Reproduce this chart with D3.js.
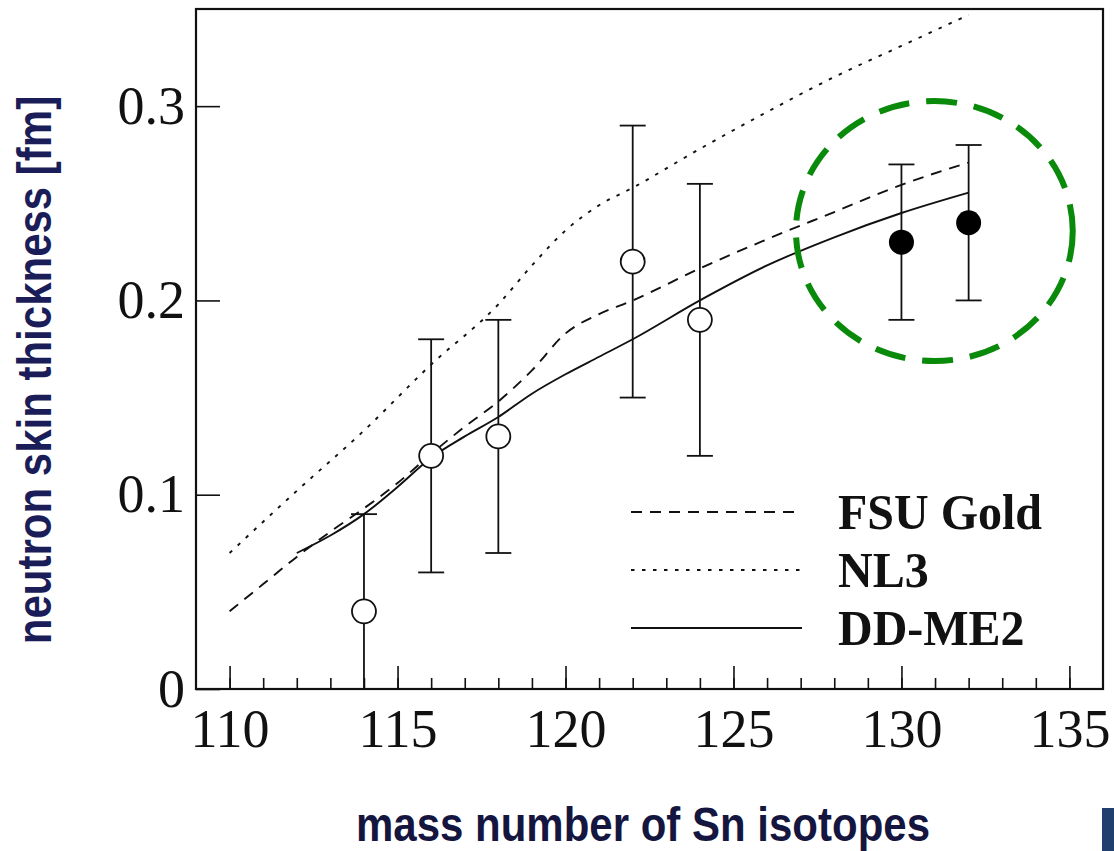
<!DOCTYPE html>
<html>
<head>
<meta charset="utf-8">
<script src="https://cdn.jsdelivr.net/npm/d3@7"></script>
<style>
  html, body { margin: 0; padding: 0; background: #fff; }
  svg { display: block; }
</style>
</head>
<body>
<svg id="chart" width="1114" height="851"></svg>
<script>
// ---------- data ----------
const xTicksMajor = [110, 115, 120, 125, 130, 135];
const yTicks = [0, 0.1, 0.2, 0.3];

// experimental points (open circles)
const expMass = [114, 116, 118, 122, 124];
const expSkin = [0.04, 0.12, 0.13, 0.22, 0.19];
const expLow  = [-0.01, 0.06, 0.07, 0.15, 0.12];
const expHigh = [0.09, 0.18, 0.19, 0.29, 0.26];

// new points (filled circles)
const newMass = [130, 132];
const newSkin = [0.23, 0.24];
const newLow  = [0.19, 0.20];
const newHigh = [0.27, 0.28];

// theory curves
const fsuMass = [110, 111, 112, 113, 114, 115, 116, 117, 118, 119, 120, 121, 122, 124, 126, 128, 130, 132];
const fsuSkin = [0.040, 0.054, 0.068, 0.081, 0.093, 0.106, 0.121, 0.135, 0.148, 0.164, 0.183, 0.193, 0.200, 0.2165, 0.2315, 0.2455, 0.2595, 0.271];

const nl3Mass = [110, 112, 114, 116, 118, 119, 120, 121, 122, 124, 126, 128, 130, 132];
const nl3Skin = [0.070, 0.102, 0.133, 0.167, 0.198, 0.218, 0.236, 0.249, 0.258, 0.278, 0.297, 0.315, 0.331, 0.347];

const ddMass = [112, 113, 114, 115, 116, 117, 118, 119, 120, 121, 122, 124, 126, 128, 130, 132];
const ddSkin = [0.070, 0.079, 0.090, 0.104, 0.119, 0.130, 0.140, 0.152, 0.162, 0.171, 0.180, 0.200, 0.218, 0.2325, 0.245, 0.2555];

const legendNames = ["FSU Gold", "NL3", "DD-ME2"];

// highlight annotation (data units)
const highlightCenter = [130.98, 0.2357];
const highlightRadius = [4.12, 0.0669];

// ---------- layout ----------
const svg = d3.select("#chart");
const x = d3.scaleLinear().domain([109, 136]).range([196, 1103]);
const y = d3.scaleLinear().domain([0, 0.35]).range([689, 9]);

const serif = "'Liberation Serif', 'Times New Roman', serif";
const sans = "'Liberation Sans', Arial, sans-serif";
const navy = "#1b1d58";

// clip for plot area
svg.append("clipPath").attr("id", "plotclip")
  .append("rect").attr("x", 196).attr("y", 9).attr("width", 907).attr("height", 680);

// ---------- axes ----------
const minorAxis = d3.axisBottom(x).tickValues(d3.range(110, 136)).tickSize(-11).tickFormat("");
svg.append("g").attr("transform", "translate(0,689)").call(minorAxis)
  .call(g => g.select(".domain").remove())
  .call(g => g.selectAll("line").attr("stroke", "#111").attr("stroke-width", 1.6));

const majorAxis = d3.axisBottom(x).tickValues(xTicksMajor).tickSize(-23).tickPadding(20).tickFormat(d3.format("d"));
svg.append("g").attr("transform", "translate(0,689)").call(majorAxis)
  .call(g => g.select(".domain").remove())
  .call(g => g.selectAll("line").attr("stroke", "#111").attr("stroke-width", 1.6))
  .call(g => g.selectAll("text").attr("font-family", serif).attr("font-size", 54).attr("fill", "#111"));

const yAxis = d3.axisLeft(y).tickValues(yTicks).tickSize(-24).tickPadding(11)
  .tickFormat(d => d === 0 ? "0" : d.toFixed(1));
svg.append("g").attr("transform", "translate(196,0)").call(yAxis)
  .call(g => g.select(".domain").remove())
  .call(g => g.selectAll("line").attr("stroke", "#111").attr("stroke-width", 1.6))
  .call(g => g.selectAll("text").attr("font-family", serif).attr("font-size", 54).attr("fill", "#111"));

// frame
svg.append("rect")
  .attr("x", x(109)).attr("y", y(0.35))
  .attr("width", x(136) - x(109)).attr("height", y(0) - y(0.35))
  .attr("fill", "none").attr("stroke", "#111").attr("stroke-width", 2.2);

// ---------- curves ----------
const plot = svg.append("g").attr("clip-path", "url(#plotclip)");
const line = d3.line().x(d => x(d[0])).y(d => y(d[1])).curve(d3.curveMonotoneX);
const curves = [
  { name: legendNames[0], mass: fsuMass, skin: fsuSkin, dash: "11 8" },
  { name: legendNames[1], mass: nl3Mass, skin: nl3Skin, dash: "3.5 7.5" },
  { name: legendNames[2], mass: ddMass, skin: ddSkin, dash: null }
];
curves.forEach(c => {
  plot.append("path")
    .datum(c.mass.map((m, i) => [m, c.skin[i]]))
    .attr("d", line)
    .attr("fill", "none").attr("stroke", "#111").attr("stroke-width", 1.9)
    .attr("stroke-dasharray", c.dash);
});

// ---------- error bars & points ----------
function drawPoints(mass, skin, lo, hi, filled) {
  const data = mass.map((m, i) => ({ m, v: skin[i], lo: lo[i], hi: hi[i] }));
  const g = plot.append("g");
  g.selectAll("line.v").data(data).join("line")
    .attr("x1", d => x(d.m)).attr("x2", d => x(d.m))
    .attr("y1", d => y(d.lo)).attr("y2", d => y(d.hi))
    .attr("stroke", "#111").attr("stroke-width", 1.8);
  g.selectAll("line.top").data(data).join("line")
    .attr("x1", d => x(d.m) - 13).attr("x2", d => x(d.m) + 13)
    .attr("y1", d => y(d.hi)).attr("y2", d => y(d.hi))
    .attr("stroke", "#111").attr("stroke-width", 1.8);
  g.selectAll("line.bot").data(data.filter(d => d.lo > 0)).join("line")
    .attr("x1", d => x(d.m) - 13).attr("x2", d => x(d.m) + 13)
    .attr("y1", d => y(d.lo)).attr("y2", d => y(d.lo))
    .attr("stroke", "#111").attr("stroke-width", 1.8);
  g.selectAll("circle").data(data).join("circle")
    .attr("cx", d => x(d.m)).attr("cy", d => y(d.v)).attr("r", filled ? 12.5 : 12)
    .attr("fill", filled ? "#000" : "#fff")
    .attr("stroke", "#111").attr("stroke-width", filled ? 0 : 1.8);
}
drawPoints(expMass, expSkin, expLow, expHigh, false);
drawPoints(newMass, newSkin, newLow, newHigh, true);

// ---------- legend ----------
const legend = svg.append("g");
curves.forEach((c, i) => {
  const ly = 512 + i * 58;
  legend.append("line")
    .attr("x1", 631).attr("x2", 802).attr("y1", ly).attr("y2", ly)
    .attr("stroke", "#111").attr("stroke-width", 1.9)
    .attr("stroke-dasharray", c.dash);
  legend.append("text")
    .attr("transform", `translate(838,${ly + 17}) scale(1,1.05)`)
    .attr("font-family", serif).attr("font-weight", "bold").attr("font-size", 48)
    .attr("fill", "#111")
    .text(c.name);
});

// ---------- highlight ellipse ----------
svg.append("ellipse")
  .attr("cx", x(highlightCenter[0])).attr("cy", y(highlightCenter[1]))
  .attr("rx", x(highlightCenter[0] + highlightRadius[0]) - x(highlightCenter[0]))
  .attr("ry", y(highlightCenter[1] - highlightRadius[1]) - y(highlightCenter[1]))
  .attr("fill", "none").attr("stroke", "#0a8a0a").attr("stroke-width", 6)
  .attr("stroke-dasharray", "31 17");

// ---------- titles ----------
svg.append("text")
  .attr("transform", "translate(51,370) rotate(-90) scale(1,1.15)")
  .attr("text-anchor", "middle")
  .attr("font-family", sans).attr("font-weight", "bold").attr("font-size", 42)
  .attr("fill", navy)
  .text("neutron skin thickness [fm]");

svg.append("text")
  .attr("transform", "translate(643,841) scale(1,1.15)")
  .attr("text-anchor", "middle")
  .attr("font-family", sans).attr("font-weight", "bold").attr("font-size", 42)
  .attr("fill", "#15163f")
  .text("mass number of Sn isotopes");

// decorative slide bar at bottom-right
svg.append("rect").attr("x", 1102).attr("y", 808).attr("width", 12).attr("height", 43).attr("fill", "#203f6e");
</script>
</body>
</html>
